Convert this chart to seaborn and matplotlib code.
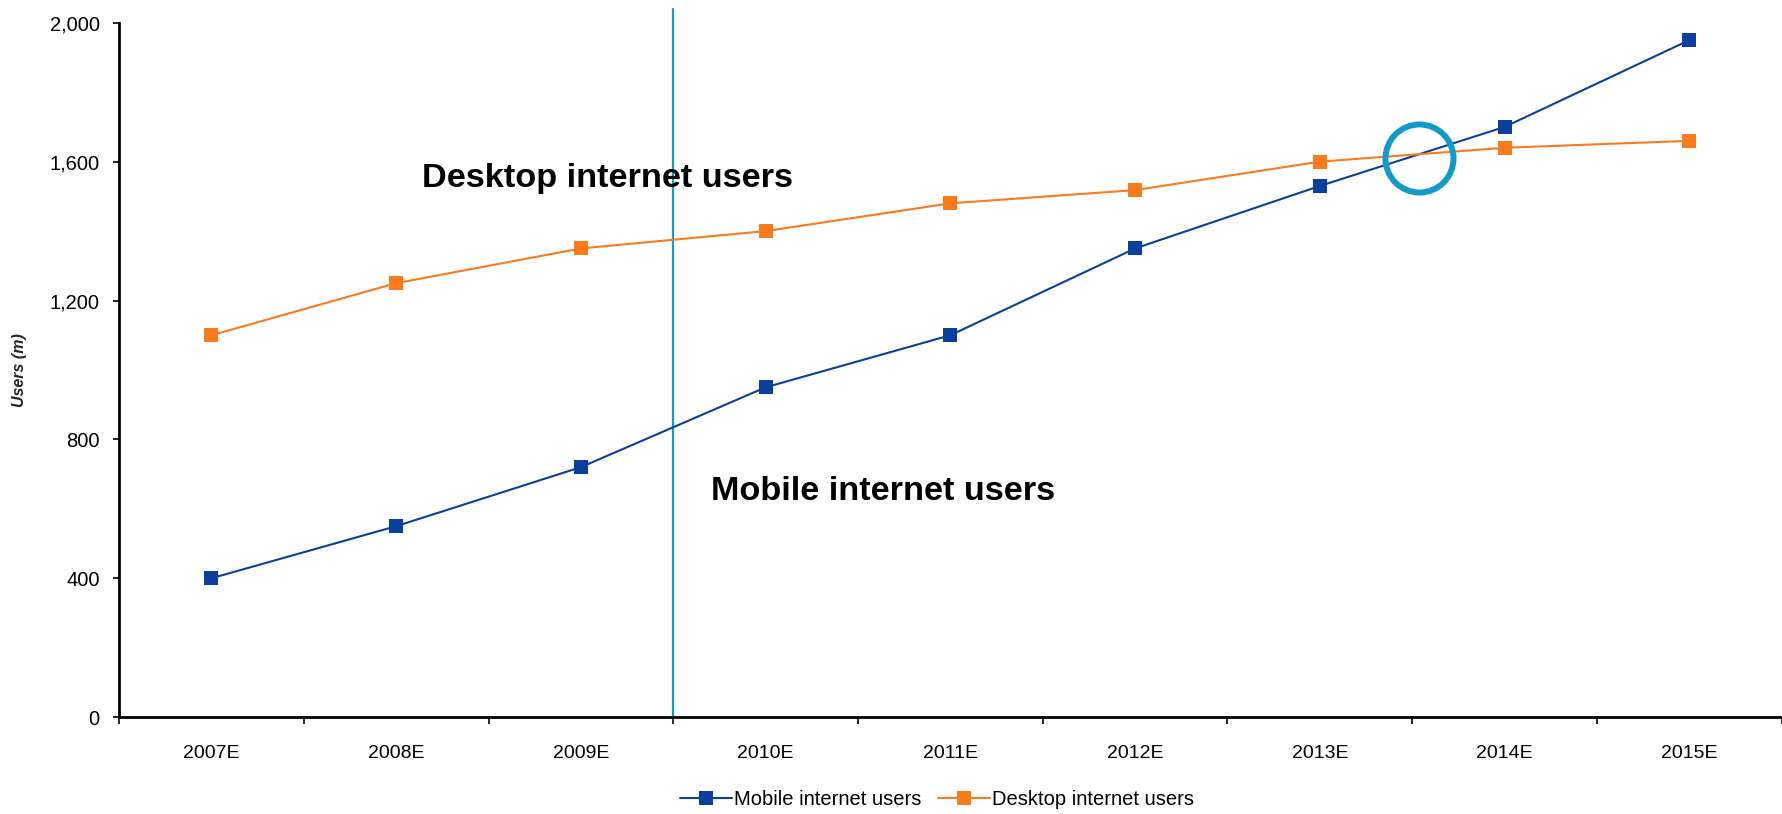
import matplotlib
matplotlib.use("Agg")
import matplotlib.pyplot as plt
from matplotlib.ticker import FixedLocator, FuncFormatter
import numpy as np
import pandas as pd
import seaborn as sns

years = ["2007E", "2008E", "2009E", "2010E", "2011E", "2012E", "2013E", "2014E", "2015E"]
mobile_users = [400, 550, 720, 950, 1100, 1350, 1530, 1700, 1950]
desktop_users = [1100, 1250, 1350, 1400, 1480, 1518, 1600, 1640, 1660]
series_names = ["Mobile internet users", "Desktop internet users"]
y_ticks = [0, 400, 800, 1200, 1600, 2000]
split_year = "2010E"

mobile_color = "#0B3F9C"
desktop_color = "#FA7A1E"
accent_color = "#139ACB"

sns.set_style("white")
plt.rcParams["font.family"] = ["Liberation Sans", "DejaVu Sans"]

df = pd.DataFrame({
    "year": years * 2,
    "users": mobile_users + desktop_users,
    "series": [series_names[0]] * len(years) + [series_names[1]] * len(years),
})

fig = plt.figure(figsize=(17.82, 8.14), dpi=100)
ax = fig.add_axes([0.0668, 0.119, 0.933, 0.853])

sns.lineplot(
    data=df, x="year", y="users", hue="series", style="series",
    hue_order=series_names, style_order=series_names,
    palette=[mobile_color, desktop_color],
    markers=["s", "s"], dashes=False, markersize=10, markeredgewidth=0,
    linewidth=1.5, sort=False, ax=ax, legend=True,
)

n = len(years)
ax.set_xlim(-0.5, n - 0.5)
ax.set_ylim(0, 2000)

# forecast boundary line between two categories
split_x = years.index(split_year) - 0.5
ax.axvline(split_x, ymin=0, ymax=1.02, color=accent_color, linewidth=1.6, clip_on=False, zorder=1)

# crossover of the two series, ringed
m = np.array(mobile_users, dtype=float)
d = np.array(desktop_users, dtype=float)
diff = m - d
i = int(np.where((diff[:-1] < 0) & (diff[1:] >= 0))[0][0])
t = -diff[i] / (diff[i + 1] - diff[i])
cx = i + t
cy = m[i] + t * (m[i + 1] - m[i])
ax.plot([cx], [cy - 10], marker="o", markersize=49, markerfacecolor="none",
        markeredgecolor=accent_color, markeredgewidth=4.3, linestyle="none", zorder=5)

# in-chart series labels
ax.text(1.14, 1551, series_names[1], fontsize=24.7, fontweight="bold", color="black", ha="left", va="center")
ax.text(2.707, 651, series_names[0], fontsize=24.7, fontweight="bold", color="black", ha="left", va="center")

# axes styling
for side in ["top", "right"]:
    ax.spines[side].set_visible(False)
for side in ["left", "bottom"]:
    ax.spines[side].set_linewidth(2)
    ax.spines[side].set_color("black")

ax.set_xticks(range(n))
ax.set_xticklabels(years)
ax.xaxis.set_minor_locator(FixedLocator(np.arange(-0.5, n, 1.0)))
ax.tick_params(axis="x", which="major", length=0, pad=20, labelsize=14, labelcolor="black")
ax.tick_params(axis="x", which="minor", length=5, width=1.2, direction="out", color="black", bottom=True)
ax.set_yticks(y_ticks)
ax.yaxis.set_major_formatter(FuncFormatter(lambda v, p: f"{int(v):,}"))
ax.tick_params(axis="y", length=4, width=1.2, direction="out", color="black", left=True,
               labelsize=14.5, labelcolor="black", pad=10)

ax.set_xlabel("")
ax.set_ylabel("Users (m)", fontsize=11.5, fontstyle="italic", fontweight="bold")
ax.yaxis.set_label_coords(-0.0555, 0.5)

handles, labels = ax.get_legend_handles_labels()
leg = ax.legend(handles, labels, loc="center", bbox_to_anchor=(0.492, -0.118), ncol=2,
                frameon=False, handlelength=2.55, columnspacing=0.85, handletextpad=0.1,
                prop={"size": 14.5})
for txt in leg.get_texts():
    txt.set_color("black")

fig.savefig("out.png", dpi=100)
